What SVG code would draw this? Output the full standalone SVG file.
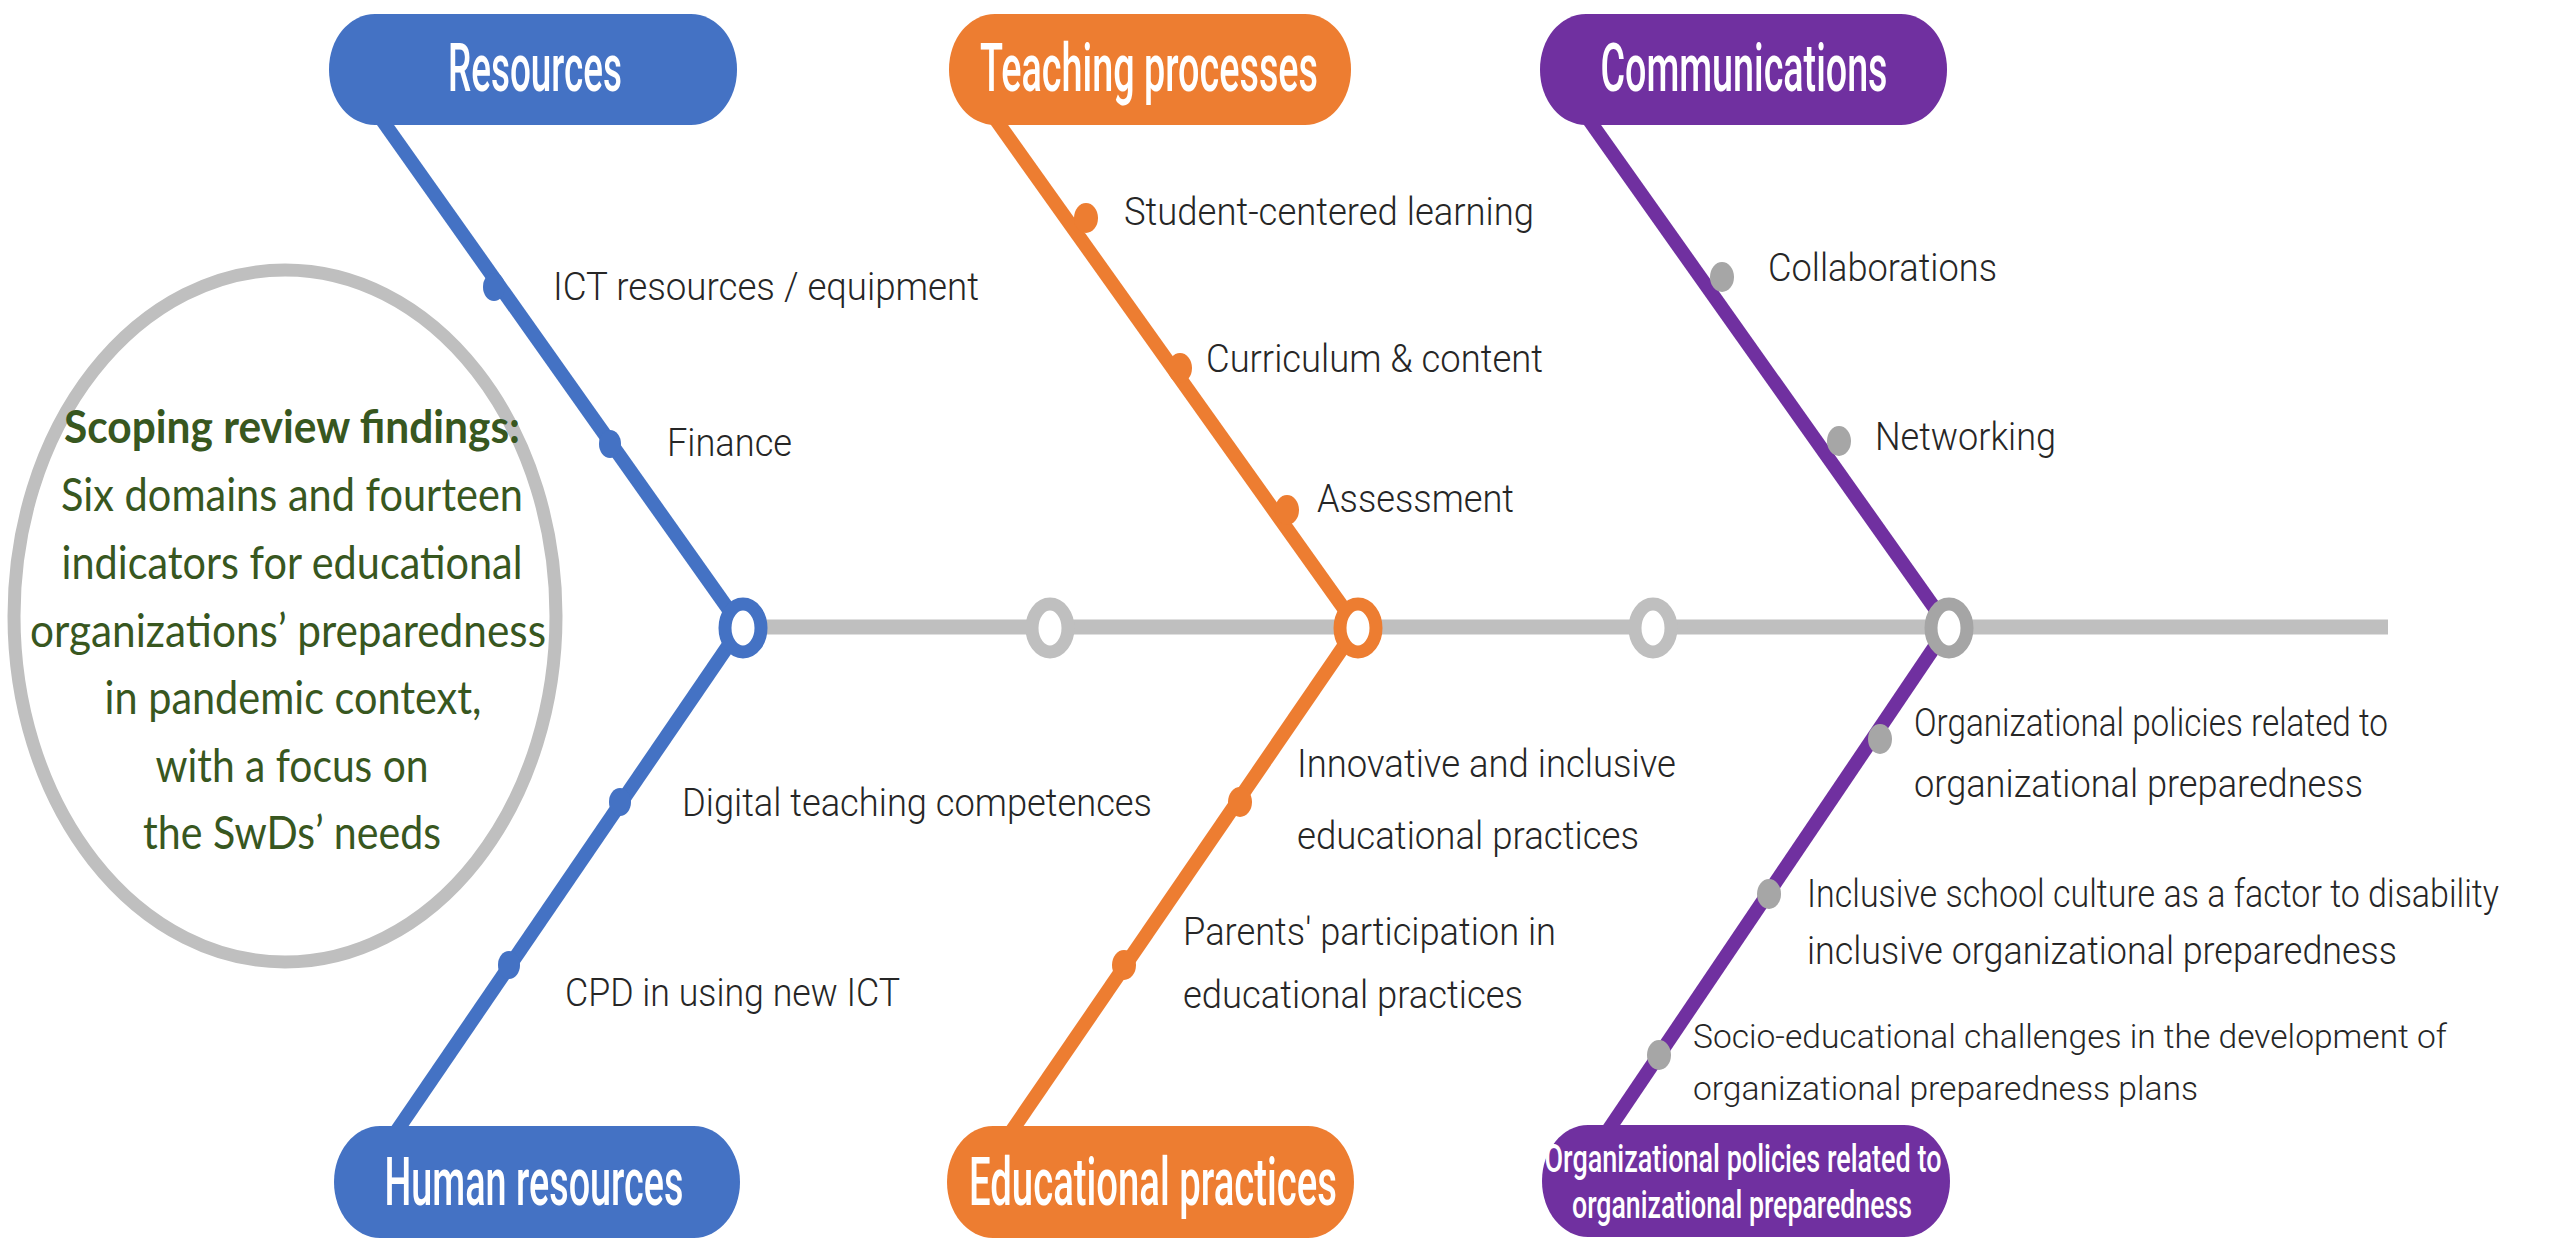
<svg xmlns="http://www.w3.org/2000/svg" width="2552" height="1240" viewBox="0 0 2552 1240">
  <style>
    .pill-blue { fill: #4472C4; }
    .pill-orange { fill: #ED7D31; }
    .pill-purple { fill: #7030A0; }
    .title { font-family: Roboto, "Liberation Sans", sans-serif; font-weight: 500; font-size: 66px; fill: #FFFFFF; text-anchor: middle; }
    .title-sm { font-family: Roboto, "Liberation Sans", sans-serif; font-weight: 500; font-size: 38px; fill: #FFFFFF; text-anchor: middle; }
    .label { font-family: Roboto, "Liberation Sans", sans-serif; font-weight: 300; font-size: 39px; fill: #262626; }
    .label-sm { font-family: Roboto, "Liberation Sans", sans-serif; font-weight: 300; font-size: 34px; fill: #262626; }
    .summary { font-family: Lato, "Open Sans", sans-serif; font-size: 46px; fill: #38571F; text-anchor: middle; }
    .summary-b { font-family: Lato, "Open Sans", sans-serif; font-weight: 700; font-size: 46px; fill: #38571F; text-anchor: middle; }
    .bone { fill: none; stroke-width: 14; stroke-linecap: butt; }
    .ring { fill: #FFFFFF; stroke-width: 13; }
    .spine { stroke: #BFBFBF; stroke-width: 15; }
  </style>

  <!-- summary ellipse on the left -->
  <g id="summary">
    <ellipse cx="285" cy="616" rx="271" ry="346" fill="none" stroke="#BFBFBF" stroke-width="13"/>
    <text class="summary-b" x="292" y="443" textLength="456" lengthAdjust="spacingAndGlyphs">Scoping review findings:</text>
    <text class="summary" x="292" y="511" textLength="462" lengthAdjust="spacingAndGlyphs">Six domains and fourteen</text>
    <text class="summary" x="292" y="579" textLength="461" lengthAdjust="spacingAndGlyphs">indicators for educational</text>
    <text class="summary" x="288" y="647" textLength="516" lengthAdjust="spacingAndGlyphs">organizations’ preparedness</text>
    <text class="summary" x="293" y="714" textLength="377" lengthAdjust="spacingAndGlyphs">in pandemic context,</text>
    <text class="summary" x="292" y="782" textLength="273" lengthAdjust="spacingAndGlyphs">with a focus on</text>
    <text class="summary" x="292" y="849" textLength="298" lengthAdjust="spacingAndGlyphs">the SwDs’ needs</text>
  </g>

  <!-- connectors: spine and the six bones -->
  <g id="connectors">
    <line class="spine" x1="741" y1="627" x2="2388" y2="627"/>
    <line class="bone" stroke="#4472C4" x1="382" y1="120" x2="741" y2="627"/>
    <line class="bone" stroke="#4472C4" x1="741" y1="627" x2="396" y2="1132"/>
    <line class="bone" stroke="#ED7D31" x1="996" y1="120" x2="1357" y2="627"/>
    <line class="bone" stroke="#ED7D31" x1="1357" y1="627" x2="1011" y2="1132"/>
    <line class="bone" stroke="#7030A0" x1="1589" y1="120" x2="1948" y2="627"/>
    <line class="bone" stroke="#7030A0" x1="1948" y1="627" x2="1607" y2="1132"/>
  </g>

  <!-- stations on the spine -->
  <g id="stations">
    <ellipse class="ring" stroke="#4472C4" cx="743" cy="628" rx="18" ry="24"/>
    <ellipse class="ring" stroke="#BFBFBF" cx="1050" cy="628" rx="18" ry="24"/>
    <ellipse class="ring" stroke="#ED7D31" cx="1358" cy="628" rx="18" ry="24"/>
    <ellipse class="ring" stroke="#BFBFBF" cx="1653" cy="628" rx="18" ry="24"/>
    <ellipse class="ring" stroke="#A5A5A5" cx="1949" cy="628" rx="18" ry="24"/>
  </g>

  <!-- Resources -->
  <g id="resources">
    <rect class="pill-blue" x="329" y="14" width="408" height="111" rx="46" ry="55"/>
    <text class="title" x="535" y="91" textLength="174" lengthAdjust="spacingAndGlyphs">Resources</text>
    <ellipse fill="#4472C4" cx="494" cy="287" rx="11" ry="14"/>
    <text class="label" x="553" y="300" textLength="426" lengthAdjust="spacingAndGlyphs">ICT resources / equipment</text>
    <ellipse fill="#4472C4" cx="610" cy="444" rx="11" ry="14"/>
    <text class="label" x="667" y="456" textLength="125" lengthAdjust="spacingAndGlyphs">Finance</text>
  </g>

  <!-- Human resources -->
  <g id="human-resources">
    <rect class="pill-blue" x="334" y="1126" width="406" height="112" rx="46" ry="56"/>
    <text class="title" x="534" y="1205" textLength="299" lengthAdjust="spacingAndGlyphs">Human resources</text>
    <ellipse fill="#4472C4" cx="620" cy="802" rx="11" ry="14"/>
    <text class="label" x="682" y="816" textLength="470" lengthAdjust="spacingAndGlyphs">Digital teaching competences</text>
    <ellipse fill="#4472C4" cx="509" cy="965" rx="11" ry="14"/>
    <text class="label" x="565" y="1006" textLength="335" lengthAdjust="spacingAndGlyphs">CPD in using new ICT</text>
  </g>

  <!-- Teaching processes -->
  <g id="teaching-processes">
    <rect class="pill-orange" x="949" y="14" width="402" height="111" rx="46" ry="55"/>
    <text class="title" x="1149" y="91" textLength="338" lengthAdjust="spacingAndGlyphs">Teaching processes</text>
    <ellipse fill="#ED7D31" cx="1086" cy="218" rx="12" ry="15"/>
    <text class="label" x="1124" y="225" textLength="410" lengthAdjust="spacingAndGlyphs">Student-centered learning</text>
    <ellipse fill="#ED7D31" cx="1180" cy="368" rx="12" ry="15"/>
    <text class="label" x="1206" y="372" textLength="337" lengthAdjust="spacingAndGlyphs">Curriculum &amp; content</text>
    <ellipse fill="#ED7D31" cx="1287" cy="510" rx="12" ry="15"/>
    <text class="label" x="1317" y="512" textLength="197" lengthAdjust="spacingAndGlyphs">Assessment</text>
  </g>

  <!-- Educational practices -->
  <g id="educational-practices">
    <rect class="pill-orange" x="947" y="1126" width="407" height="112" rx="46" ry="56"/>
    <text class="title" x="1153" y="1205" textLength="368" lengthAdjust="spacingAndGlyphs">Educational practices</text>
    <ellipse fill="#ED7D31" cx="1240" cy="802" rx="12" ry="15"/>
    <text class="label" x="1297" y="777" textLength="379" lengthAdjust="spacingAndGlyphs">Innovative and inclusive</text>
    <text class="label" x="1297" y="849" textLength="342" lengthAdjust="spacingAndGlyphs">educational practices</text>
    <ellipse fill="#ED7D31" cx="1124" cy="965" rx="12" ry="15"/>
    <text class="label" x="1183" y="945" textLength="373" lengthAdjust="spacingAndGlyphs">Parents' participation in</text>
    <text class="label" x="1183" y="1008" textLength="340" lengthAdjust="spacingAndGlyphs">educational practices</text>
  </g>

  <!-- Communications -->
  <g id="communications">
    <rect class="pill-purple" x="1540" y="14" width="407" height="111" rx="46" ry="55"/>
    <text class="title" x="1744" y="91" textLength="287" lengthAdjust="spacingAndGlyphs">Communications</text>
    <ellipse fill="#A6A6A6" cx="1722" cy="277" rx="12" ry="15"/>
    <text class="label" x="1768" y="281" textLength="229" lengthAdjust="spacingAndGlyphs">Collaborations</text>
    <ellipse fill="#A6A6A6" cx="1839" cy="441" rx="12" ry="15"/>
    <text class="label" x="1875" y="450" textLength="181" lengthAdjust="spacingAndGlyphs">Networking</text>
  </g>

  <!-- Organizational policies -->
  <g id="organizational-policies">
    <rect class="pill-purple" x="1542" y="1125" width="408" height="112" rx="46" ry="56"/>
    <text class="title-sm" x="1743" y="1172" textLength="397" lengthAdjust="spacingAndGlyphs">Organizational policies related to</text>
    <text class="title-sm" x="1742" y="1218" textLength="340" lengthAdjust="spacingAndGlyphs">organizational preparedness</text>
    <ellipse fill="#A6A6A6" cx="1880" cy="739" rx="12" ry="15"/>
    <text class="label" x="1914" y="736" textLength="474" lengthAdjust="spacingAndGlyphs">Organizational policies related to</text>
    <text class="label" x="1914" y="797" textLength="449" lengthAdjust="spacingAndGlyphs">organizational preparedness</text>
    <ellipse fill="#A6A6A6" cx="1769" cy="894" rx="12" ry="15"/>
    <!-- long line: condensed with a horizontal scale so it stays inside the canvas -->
    <text class="label" transform="translate(1807 907) scale(0.8 1)" x="0" y="0" textLength="865" lengthAdjust="spacingAndGlyphs">Inclusive school culture as a factor to disability</text>
    <text class="label" x="1807" y="964" textLength="590" lengthAdjust="spacingAndGlyphs">inclusive organizational preparedness</text>
    <ellipse fill="#A6A6A6" cx="1659" cy="1055" rx="12" ry="15"/>
    <text class="label-sm" x="1693" y="1048" textLength="754" lengthAdjust="spacingAndGlyphs">Socio-educational challenges in the development of</text>
    <text class="label-sm" x="1693" y="1100" textLength="505" lengthAdjust="spacingAndGlyphs">organizational preparedness plans</text>
  </g>
</svg>
